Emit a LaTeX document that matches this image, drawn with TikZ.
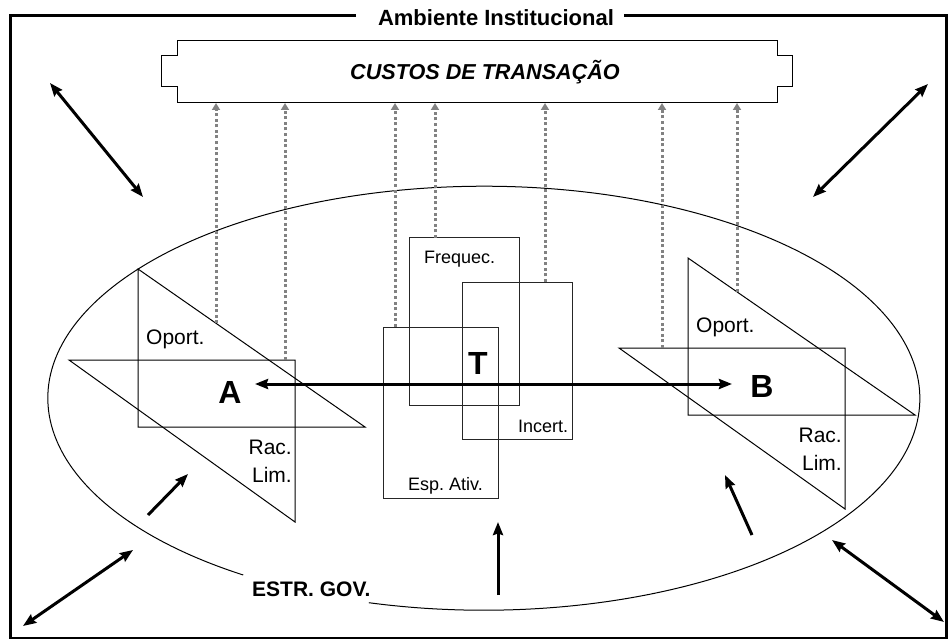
\documentclass[tikz,border=0pt]{standalone}
\usepackage{fontspec}
\setmainfont{Liberation Sans}
\usetikzlibrary{arrows.meta}
\definecolor{dotgray}{RGB}{130,130,130}
\frenchspacing
\begin{document}
\begin{tikzpicture}[x=1pt,y=-1pt,
  thinline/.style={line width=1pt},
  boxline/.style={draw=black!85, line width=1pt, inner sep=0pt, outer sep=0pt},
  twoway/.style={line width=3pt, {Stealth[length=13pt,width=10pt,inset=1.5pt]}-{Stealth[length=13pt,width=10pt,inset=1.5pt]}},
  oneway/.style={line width=3pt, -{Stealth[length=13pt,width=10pt,inset=1.5pt]}},
  costarrow/.style={draw=dotgray, line width=3pt, dash pattern=on 3pt off 2.6pt,
    -{Triangle[length=7pt,width=8pt,fill=dotgray]}},
  lab/.style={font=\fontsize{21}{28}\selectfont, inner sep=0pt},
  smalllab/.style={font=\fontsize{18}{22}\selectfont, inner sep=0pt},
  bigletter/.style={font=\fontsize{32}{36}\selectfont\bfseries, inner sep=0pt}
]
\useasboundingbox (0,0) rectangle (948,639);

% outer frame with a gap for its heading
\draw[line width=3pt] (356,16) -- (10,16) -- (10,638) -- (946.5,638) -- (946.5,16) -- (624,16);
\node[font=\fontsize{22}{26}\selectfont\bfseries, inner sep=0pt, anchor=base] (ambiente) at (496,26) {Ambiente Institucional};

% transaction cost banner
\draw[thinline] (177,41) -- (777,41) -- (777,56) -- (792,56) -- (792,87) -- (777,87)
  -- (777,103) -- (177,103) -- (177,87) -- (161,87) -- (161,56) -- (177,56) -- cycle;
\coordinate (cbase) at (477,103);
\node[font=\fontsize{21.6}{26}\selectfont\bfseries\itshape, inner sep=0pt, anchor=base] (custos) at (485,80) {CUSTOS DE TRANSAÇÃO};

% governance structure
\draw[thinline] (243.2,575) arc[start angle=123.5, end angle=465.3, x radius=436, y radius=212];
\node[font=\fontsize{21}{26}\selectfont\bfseries, inner sep=0pt, anchor=base west] (estr) at (252,596) {ESTR. GOV.};

% agent A
\coordinate (aO1) at (138,269); \coordinate (aO2) at (138,427); \coordinate (aO3) at (365,427);
\coordinate (aR1) at (69,360);  \coordinate (aR2) at (295,360); \coordinate (aR3) at (295,522);
\draw[thinline] (aO1) -- (aO2) -- (aO3) -- cycle;
\draw[thinline] (aR1) -- (aR2) -- (aR3) -- cycle;
\node[lab, anchor=base west] (aop) at (146,344) {Oport.};
\node[lab, anchor=north east, align=right] (arac) at (292,440) {Rac.\\Lim.};
\node[bigletter, anchor=base] (A) at (230,403) {A};

% agent B
\coordinate (bO1) at (688,258); \coordinate (bO2) at (688,415); \coordinate (bO3) at (915,415);
\coordinate (bR1) at (619,348); \coordinate (bR2) at (845,348); \coordinate (bR3) at (845,509);
\draw[thinline] (bO1) -- (bO2) -- (bO3) -- cycle;
\draw[thinline] (bR1) -- (bR2) -- (bR3) -- cycle;
\node[lab, anchor=base west] (bop) at (696,332) {Oport.};
\node[lab, anchor=north east, align=right] (brac) at (842,428) {Rac.\\Lim.};
\node[bigletter, anchor=base] (B) at (762,397) {B};

% transaction attributes
\node[boxline, draw, minimum width=110pt, minimum height=167pt] (freq) at (464,321.5) {};
\node[boxline, draw, minimum width=110pt, minimum height=157pt] (incert) at (517,360.5) {};
\node[boxline, draw, minimum width=115pt, minimum height=171pt] (esp) at (440.5,412.5) {};
\node[smalllab, anchor=base west] (freqlab) at (424,263) {Frequec.};
\node[smalllab, anchor=base west] (incertlab) at (518,432) {Incert.};
\node[smalllab, anchor=base west] (esplab) at (408,490) {Esp. Ativ.};
\node[bigletter, anchor=base] (T) at (478,374) {T};

% exchange between A and B
\coordinate (aend) at (255,384); \coordinate (bend) at (732,384);
\draw[twoway] (aend) -- (bend);

% influences on transaction costs
\coordinate (g1) at (216,323.3);
\coordinate (g2) at (285,360);
\coordinate (g3) at (395,327);
\coordinate (g4) at (435,238);
\coordinate (g5) at (545,282);
\coordinate (g6) at (662,348);
\coordinate (g7) at (737,292);
\foreach \g in {g1,g2,g3,g4,g5,g6,g7}
  \draw[costarrow] (\g) -- (\g |- cbase);

% arrows inside the governance structure
\coordinate (la0) at (148,515); \coordinate (la1) at (188,474);
\coordinate (ra0) at (752,535); \coordinate (ra1) at (725,475);
\coordinate (ca0) at (498,595); \coordinate (ca1) at (498,522);
\draw[oneway] (la0) -- (la1);
\draw[oneway] (ra0) -- (ra1);
\draw[oneway] (ca0) -- (ca1);

% institutional environment links
\coordinate (tl0) at (50,83);   \coordinate (tl1) at (143,197);
\coordinate (tr0) at (928,84);  \coordinate (tr1) at (813,197);
\coordinate (bl0) at (23,626);  \coordinate (bl1) at (133,550);
\coordinate (br0) at (832,540); \coordinate (br1) at (944,622);
\draw[twoway] (tl0) -- (tl1);
\draw[twoway] (tr0) -- (tr1);
\draw[twoway] (bl0) -- (bl1);
\draw[twoway] (br0) -- (br1);
\end{tikzpicture}
\end{document}
